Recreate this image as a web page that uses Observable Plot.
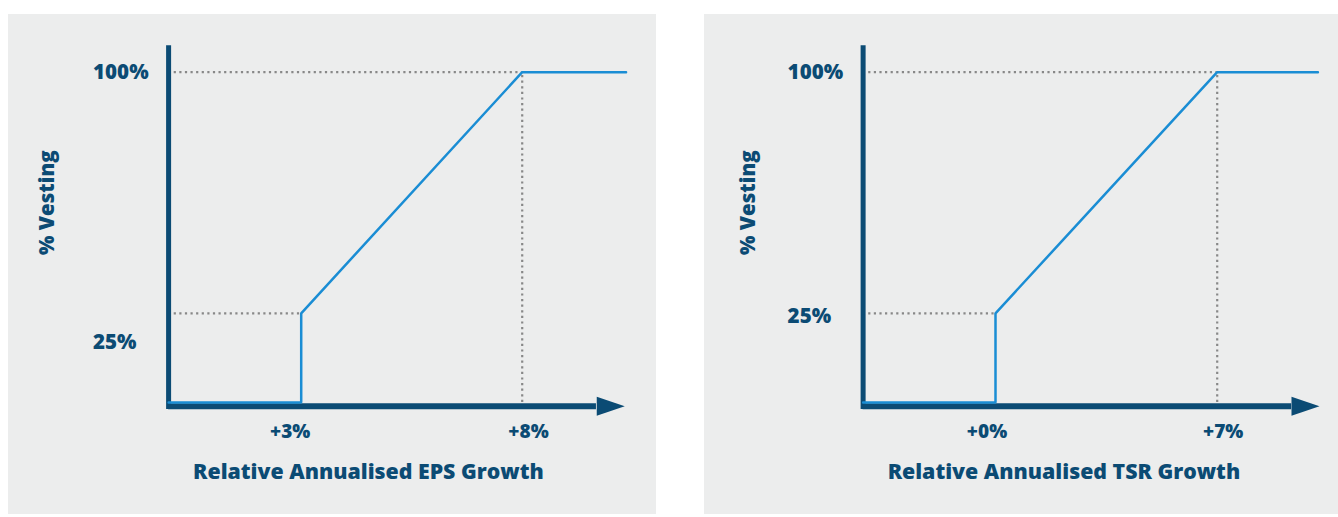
<!DOCTYPE html>
<html>
<head>
<meta charset="utf-8">
<script src="https://cdn.jsdelivr.net/npm/d3@7"></script>
<script src="https://cdn.jsdelivr.net/npm/@observablehq/plot@0.6"></script>
<style>
  html, body { margin: 0; padding: 0; background: #ffffff; }
  #wrap { position: relative; width: 1338px; height: 517px; overflow: hidden; }
  .panel { position: absolute; background: #eceded; }
  .panel svg { display: block; background: transparent; }
</style>
</head>
<body>
<div id="wrap">
  <div class="panel" id="left" style="left:8px; top:14px; width:648px; height:500px;"></div>
  <div class="panel" id="right" style="left:704px; top:14px; width:634px; height:500px;"></div>
</div>
<script>
// ---- data ----
const vestY = [0, 0, 27, 100, 100];            // % vesting along the curve
const epsX = [0, 3, 3, 8, 10.35];              // relative annualised EPS growth (%)
const tsrX = [-4.18, 0, 0, 7, 10.18];          // relative annualised TSR growth (%)
const epsTicks = [3, 8];
const epsTickLabels = ["+3%", "+8%"];
const tsrTicks = [0, 7];
const tsrTickLabels = ["+0%", "+7%"];
const yTicks = [100, 25];
const yTickLabels = ["100%", "25%"];
const epsTitle = "Relative Annualised EPS Growth";
const tsrTitle = "Relative Annualised TSR Growth";
const yTitle = "% Vesting";

// ---- styles ----
const NAVY = "#0b4b74";
const BLUE = "#1a8dd4";
const GREY = "#888888";
const FONT = "'Open Sans', sans-serif";

const arrowHead = {
  draw(ctx) {
    ctx.moveTo(-28, -9.5);
    ctx.lineTo(0, 0);
    ctx.lineTo(-28, 9.5);
    ctx.closePath();
  }
};

function panel(cfg) {
  const xs = cfg.xs, ys = vestY;
  const curve = xs.map((x, i) => ({x, y: ys[i]}));
  const xMin = xs[0];
  const kneeLow = xs[1], kneeHigh = xs[3];
  const stepY = ys[2], topY = ys[3];
  const axisY = -1.15;
  const txt = {fill: NAVY, fontFamily: FONT, fontWeight: 800, stroke: null};
  const dots = {stroke: GREY, strokeWidth: 2.2, strokeDasharray: "2.2,3.4"};

  const marks = [
    // dotted guides
    Plot.ruleY([topY], {x1: xMin, x2: kneeHigh, ...dots}),
    Plot.ruleY([stepY], {x1: xMin, x2: kneeLow, ...dots}),
    Plot.ruleX([kneeHigh], {y1: 0, y2: topY, ...dots}),
    // axes
    Plot.ruleX([xMin], {y1: -2.1, y2: 108, stroke: NAVY, strokeWidth: 5}),
    Plot.ruleY([axisY], {x1: xMin, x2: cfg.arrowBase, stroke: NAVY, strokeWidth: 6}),
    Plot.dot([cfg.arrowTip], {x: d => d, y: axisY, symbol: arrowHead, fill: NAVY, stroke: null, r: 10}),
    // curve
    Plot.line(curve, {x: "x", y: "y", stroke: BLUE, strokeWidth: 2.5, strokeLinejoin: "miter"}),
    // x tick labels
    ...cfg.ticks.map((t, i) => Plot.text([t], {x: d => d, y: axisY, text: () => cfg.tickLabels[i], dy: 26, dx: cfg.tickDx[i], lineAnchor: "middle", fontSize: 19, ...txt})),
    // y tick labels
    ...yTicks.map((t, i) => Plot.text([t], {x: xMin, y: d => d, text: () => yTickLabels[i], textAnchor: "start", dx: -75.5, dy: cfg.yLabelDy[i], lineAnchor: "middle", fontSize: 20.5, ...txt})),
    // axis titles
    Plot.text([cfg.title], {x: cfg.titleX, y: axisY, text: d => d, dy: 66, lineAnchor: "middle", fontSize: 21.3, ...txt}),
    Plot.text([yTitle], {x: xMin, y: 60.5, text: d => d, dx: cfg.yTitleDx, rotate: -90, lineAnchor: "middle", fontSize: 20.5, ...txt})
  ];

  return Plot.plot({
    width: cfg.width,
    height: 500,
    margin: 0,
    x: {domain: cfg.xDomain, range: cfg.xRange, axis: null},
    y: {domain: [0, 100], range: [388, 57.7], axis: null},
    style: {background: "transparent", overflow: "visible"},
    marks
  });
}

document.getElementById("left").appendChild(panel({
  width: 648,
  xs: epsX,
  xDomain: [3, 8], xRange: [292.7, 513.7],
  arrowBase: 9.68, arrowTip: 10.32,
  ticks: epsTicks, tickLabels: epsTickLabels, tickDx: [-11, 6.3],
  yLabelDy: [0, 23],
  title: epsTitle, titleX: 4.52,
  yTitleDx: -121
}));

document.getElementById("right").appendChild(panel({
  width: 634,
  xs: tsrX,
  xDomain: [0, 7], xRange: [291, 512.7],
  arrowBase: 9.35, arrowTip: 10.23,
  ticks: tsrTicks, tickLabels: tsrTickLabels, tickDx: [-8.5, 6],
  yLabelDy: [0, -3.4],
  title: tsrTitle, titleX: 2.16,
  yTitleDx: -114.5
}));
</script>
</body>
</html>
